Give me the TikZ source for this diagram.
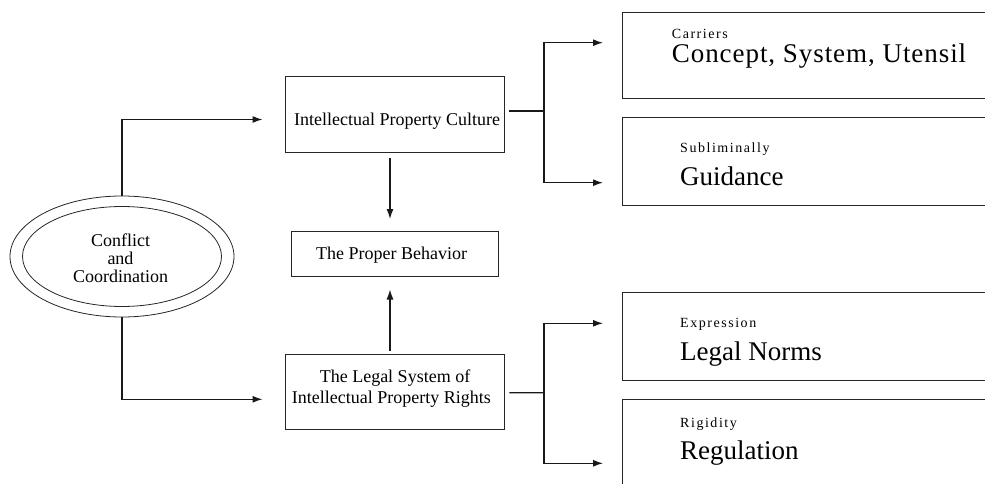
\documentclass[tikz,border=0pt]{standalone}
\usepackage{fontspec}
\setmainfont{Liberation Serif}
\newfontfamily\spacedserif[LetterSpace=11]{Liberation Serif}
\newfontfamily\looseserif[LetterSpace=3.5]{Liberation Serif}
\usetikzlibrary{shapes.geometric,arrows.meta,calc}

\begin{document}
\begin{tikzpicture}[x=1pt,y=-1pt,
  box/.style={draw=black!85, line width=0.9pt, rectangle, inner sep=0pt},
  ring/.style={draw=black!85, line width=0.8pt, ellipse, inner sep=0pt},
  midtext/.style={font=\fontsize{18}{18.35}\selectfont, align=center, inner sep=0pt},
  smalltext/.style={font=\spacedserif\fontsize{14}{16}\selectfont, anchor=base west, inner sep=0pt},
  bigtext/.style={font=\fontsize{27}{30}\selectfont, anchor=base west, inner sep=0pt},
  link/.style={line width=1.2pt, draw=black!90},
  arrowlink/.style={link, -{Latex[length=10pt,width=7pt]}},
]
\useasboundingbox (0,0) rectangle (985,484);
\clip (0,0) rectangle (985,484);

% double ellipse on the left
\node[ring, minimum width=224pt, minimum height=121pt] (cc) at (122,256.5) {};
\node[ring, minimum width=199pt, minimum height=100pt] (ccin) at (cc.center) {};
\node[midtext] (ccT) at (120.5,258.2) {Conflict\\and\\Coordination};

% central column
\node[box, minimum width=219.5pt, minimum height=75.6pt] (ipc) at (394.75,114.5) {};
\node[midtext, anchor=base] (ipcT) at (397,125.5) {Intellectual Property Culture};

\node[box, minimum width=207pt, minimum height=45pt] (beh) at (395.2,254.2) {};
\node[midtext, anchor=base] (behT) at (391.7,259.3) {The Proper Behavior};

\node[box, minimum width=219.5pt, minimum height=75.3pt] (law) at (394.75,391.65) {};
\node[midtext, anchor=base] (lawT1) at (395,382.7) {The Legal System of};
\node[midtext, anchor=base] (lawT2) at (391.3,403.3) {Intellectual Property Rights};

% right column, boxes run past the right edge
\node[box, minimum width=377.5pt, minimum height=85.6pt] (r1) at (811.25,55.5) {};
\node[box, minimum width=377.5pt, minimum height=87.3pt] (r2) at (811.25,161.35) {};
\node[box, minimum width=377.5pt, minimum height=87.3pt] (r3) at (811.25,336.35) {};
\node[box, minimum width=377.5pt, minimum height=100.7pt] (r4) at (811.25,449.65) {};

\node[smalltext] (r1a) at (671.7,38.5) {Carriers};
\node[bigtext, font=\looseserif\fontsize{27}{30}\selectfont] (r1b) at (671.7,62.7) {Concept, System, Utensil};
\node[smalltext] (r2a) at (680,152.3) {Subliminally};
\node[bigtext] (r2b) at (680,185) {Guidance};
\node[smalltext] (r3a) at (680,327.7) {Expression};
\node[bigtext] (r3b) at (680,360) {Legal Norms};
\node[smalltext] (r4a) at (680,427.7) {Rigidity};
\node[bigtext] (r4b) at (680,459.5) {Regulation};

% connector end points
\coordinate (ipcIn) at (262.5,119.5);
\coordinate (lawIn) at (262.5,399.3);
\coordinate (ipcOut) at ([xshift=4.5pt,yshift=3.5pt]ipc.east);
\coordinate (ipcFork) at (544,111);
\coordinate (lawOut) at ([xshift=4.5pt,yshift=-1pt]law.east);
\coordinate (lawFork) at (544,392.7);
\coordinate (r1In) at (603,42.7);
\coordinate (r2In) at (603,182.7);
\coordinate (r3In) at (603,323.3);
\coordinate (r4In) at (603,463.3);
\coordinate (downStart) at (390,158);
\coordinate (downEnd) at (390,219);
\coordinate (upStart) at (390,350.7);
\coordinate (upEnd) at (390,289.5);

% connectors
\draw[arrowlink] (cc.north) |- (ipcIn);
\draw[arrowlink] (cc.south) |- (lawIn);

\draw[link] (ipcOut) -- (ipcFork);
\draw[arrowlink] (ipcFork) |- (r1In);
\draw[arrowlink] (ipcFork) |- (r2In);

\draw[link] (lawOut) -- (lawFork);
\draw[arrowlink] (lawFork) |- (r3In);
\draw[arrowlink] (lawFork) |- (r4In);

\draw[arrowlink] (downStart) -- (downEnd);
\draw[arrowlink] (upStart) -- (upEnd);
\end{tikzpicture}
\end{document}
